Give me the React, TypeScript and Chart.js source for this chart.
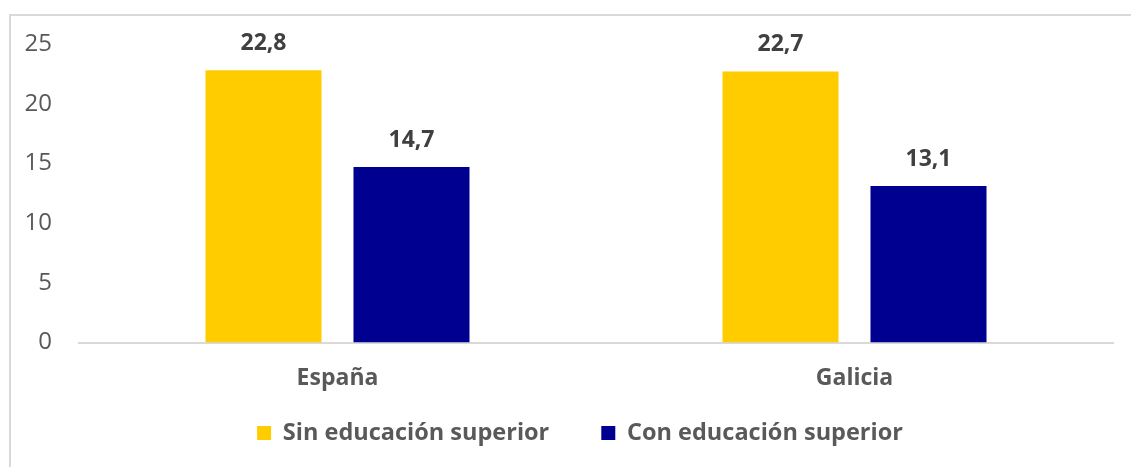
import React, { useEffect, useRef } from "react";
import { Chart, registerables } from "chart.js";

Chart.register(...registerables);

const categories = ["España", "Galicia"];
const seriesNames = ["Sin educación superior", "Con educación superior"];
const sinEducacion = [22.8, 22.7];
const conEducacion = [14.7, 13.1];
const yTicks = [0, 5, 10, 15, 20, 25];

const FONT = "'Open Sans', 'Noto Sans', sans-serif";
const FS = 23;

const labelPlugin = {
  id: "barLabels",
  afterLayout(chart: any) {
    const x = chart.scales.x;
    x.bottom = x.top + 70;
    if (chart.legend) {
      chart.legend.left = 47;
    }
  },
  afterDatasetsDraw(chart: any) {
    const ctx = chart.ctx;
    ctx.save();
    ctx.font = `bold ${FS}px ${FONT}`;
    ctx.fillStyle = "#404040";
    ctx.textAlign = "center";
    ctx.textBaseline = "middle";
    chart.data.datasets.forEach((ds: any, i: number) => {
      const meta = chart.getDatasetMeta(i);
      meta.data.forEach((bar: any, j: number) => {
        const v = ds.data[j] as number;
        ctx.fillText(v.toFixed(1).replace(".", ","), bar.x, bar.y - 27);
      });
    });
    ctx.restore();
  },
};

export default function App() {
  const ref = useRef<HTMLCanvasElement | null>(null);
  useEffect(() => {
    document.body.style.margin = "0";
    const chart = new Chart(ref.current as HTMLCanvasElement, {
      type: "bar",
      data: {
        labels: categories,
        datasets: [
          {
            label: seriesNames[0],
            data: sinEducacion,
            backgroundColor: "#FFCC00",
            categoryPercentage: 0.5725,
            barPercentage: 0.784,
          },
          {
            label: seriesNames[1],
            data: conEducacion,
            backgroundColor: "#000090",
            categoryPercentage: 0.5725,
            barPercentage: 0.784,
          },
        ],
      },
      options: {
        animation: false,
        responsive: false,
        layout: { padding: { left: 0, right: 18, top: 44, bottom: 12.25 } },
        scales: {
          x: {
            afterFit(scale: any) {
              scale.height = 26.75;
            },
            grid: { display: false, drawTicks: false },
            border: { display: true, color: "#d9d9d9", width: 2 },
            ticks: {
              padding: 22,
              color: "#595959",
              font: { family: FONT, size: FS, weight: "bold" },
            },
          },
          y: {
            min: 0,
            max: 25,
            afterFit(scale: any) {
              scale.width = 79;
            },
            afterBuildTicks(scale: any) {
              scale.ticks = yTicks.map((v) => ({ value: v }));
            },
            grid: { display: false, drawTicks: false },
            border: { display: false },
            ticks: {
              padding: 27,
              color: "#595959",
              font: { family: FONT, size: 24 },
            },
          },
        },
        plugins: {
          tooltip: { enabled: false },
          legend: {
            position: "bottom",
            labels: {
              boxWidth: 14,
              boxHeight: 14,
              padding: 52,
              color: "#595959",
              font: { family: FONT, size: 23.5, weight: "bold" },
            },
          },
        },
      },
      plugins: [labelPlugin],
    } as any);
    return () => chart.destroy();
  }, []);
  return (
    <div style={{ position: "relative", width: 1131, height: 467, overflow: "hidden", background: "#fff" }}>
      <div
        style={{
          position: "absolute",
          left: 9,
          top: 14,
          width: 1200,
          height: 500,
          border: "2px solid #d9d9d9",
          boxSizing: "border-box",
        }}
      />
      <canvas ref={ref} width={1131} height={467} style={{ position: "absolute", left: 0, top: 0 }} />
    </div>
  );
}
